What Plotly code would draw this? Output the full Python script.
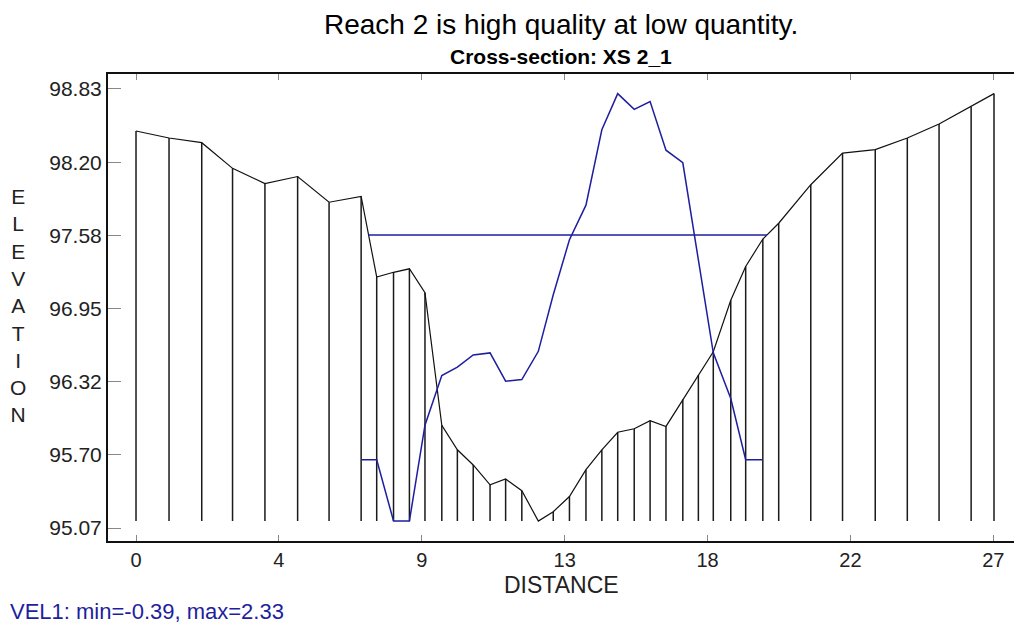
import numpy as np
import plotly.graph_objects as go

# Cross-section XS 2_1: station (distance) and ground elevation
station = [0.00, 1.04, 2.07, 3.04, 4.06, 5.09, 6.08, 7.09, 7.58, 8.11,
           8.61, 9.10, 9.63, 10.12, 10.62, 11.15, 11.64, 12.15, 12.67, 13.14,
           13.65, 14.17, 14.67, 15.17, 15.69, 16.19, 16.69, 17.22, 17.71, 18.18,
           18.73, 19.20, 19.74, 20.24, 21.25, 22.25, 23.28, 24.29, 25.29, 26.30,
           27.02]
elevation = [98.47, 98.41, 98.37, 98.15, 98.02, 98.08, 97.86, 97.91, 97.22, 97.26,
             97.29, 97.085, 95.95, 95.74, 95.61, 95.44, 95.49, 95.39, 95.13, 95.21,
             95.34, 95.57, 95.74, 95.89, 95.92, 95.99, 95.94, 96.17, 96.38, 96.58,
             97.02, 97.31, 97.545, 97.68, 98.01, 98.28, 98.31, 98.41, 98.53, 98.68,
             98.79]

# Velocity (VEL1) at the wetted stations
vel_station = [7.09, 7.58, 8.11, 8.61, 9.10, 9.63, 10.12, 10.62, 11.15, 11.64,
               12.15, 12.67, 13.14, 13.65, 14.17, 14.67, 15.17, 15.69, 16.19, 16.69,
               17.22, 17.71, 18.18, 18.73, 19.20, 19.74]
velocity = [0.00, 0.00, -0.39, -0.39, 0.22, 0.536, 0.59, 0.667, 0.68, 0.50,
            0.51, 0.69, 1.05, 1.40, 1.62, 2.10, 2.33, 2.23, 2.28, 1.97,
            1.89, 1.27, 0.68, 0.39, 0.00, 0.00]

water_surface = 97.58

y_tickvals = [95.07, 95.697, 96.323, 96.95, 97.577, 98.203, 98.83]
x_tickvals = [0, 4.5, 9, 13.5, 18, 22.5, 27]
x_ticktext = ["0", "4", "9", "13", "18", "22", "27"]

x_range = [-0.882, 27.65]
y_range = [94.959, 98.958]

FONT = "Liberation Sans Narrow, Arial Narrow, Liberation Sans, Arial, sans-serif"
BLUE = "#1e1e9e"

st = np.array(station)
el = np.array(elevation)
zmin, zmax = el.min(), el.max()

# vertical station lines from the ground down to the channel bottom
vx, vy = [], []
for s, z in zip(station, elevation):
    vx += [s, s, None]
    vy += [z, zmin, None]

# water edges where the ground profile crosses the water surface
edges = []
for i in range(len(st) - 1):
    a, b = el[i] - water_surface, el[i + 1] - water_surface
    if a * b < 0:
        edges.append(st[i] + a / (a - b) * (st[i + 1] - st[i]))
wx = [edges[0], edges[-1]]

# hidden velocity axis scaled so the velocity span fills the ground span
vmin, vmax = min(velocity), max(velocity)
k = (vmax - vmin) / (zmax - zmin)
y2_range = [vmin + (y_range[0] - zmin) * k, vmin + (y_range[1] - zmin) * k]

fig = go.Figure()
fig.add_trace(go.Scatter(x=vx, y=vy, mode="lines",
                         line=dict(color="#1a1a1a", width=1.5), hoverinfo="skip"))
fig.add_trace(go.Scatter(x=station, y=elevation, mode="lines",
                         line=dict(color="#111111", width=1.2)))
fig.add_trace(go.Scatter(x=wx, y=[water_surface, water_surface], mode="lines",
                         line=dict(color=BLUE, width=1.5)))
fig.add_trace(go.Scatter(x=vel_station, y=velocity, mode="lines", yaxis="y2",
                         line=dict(color=BLUE, width=1.5)))

fig.update_layout(
    width=1014, height=630,
    margin=dict(l=108, r=0, t=74, b=89),
    paper_bgcolor="white", plot_bgcolor="white",
    showlegend=False,
    font=dict(family=FONT, color="#222222"),
    xaxis=dict(range=x_range, tickvals=x_tickvals, ticktext=x_ticktext,
               showgrid=False, zeroline=False, showline=True, linecolor="#111111",
               linewidth=2, mirror="ticks", ticks="inside", ticklen=6,
               tickcolor="#888888", tickfont=dict(size=20)),
    yaxis=dict(range=y_range, tickvals=y_tickvals, tickformat=".2f",
               showgrid=False, zeroline=False, showline=True, linecolor="#111111",
               linewidth=2, ticks="inside", ticklen=13, tickcolor="#888888",
               tickfont=dict(size=21)),
    yaxis2=dict(range=y2_range, overlaying="y", visible=False),
    annotations=[
        dict(text="Reach 2 is high quality at low quantity.", xref="paper", yref="paper",
             x=0.5, y=1.107, xanchor="center", yanchor="middle", showarrow=False,
             font=dict(size=28, color="#000000")),
        dict(text="<b>Cross-section: XS 2_1</b>", xref="paper", yref="paper",
             x=0.5, y=1.038, xanchor="center", yanchor="middle", showarrow=False,
             font=dict(size=21, color="#000000")),
        dict(text="DISTANCE", xref="paper", yref="paper",
             x=0.5, y=-0.094, xanchor="center", yanchor="middle", showarrow=False,
             font=dict(size=23)),
        dict(text="<br>".join("ELEVATION"), xref="paper", yref="paper",
             x=-0.099, y=0.505, xanchor="center", yanchor="middle", showarrow=False,
             font=dict(size=21)),
        dict(text=f"VEL1: min={vmin:.2f}, max={vmax:.2f}", xref="paper", yref="paper",
             x=-0.1104, y=-0.152, xanchor="left", yanchor="middle", showarrow=False,
             font=dict(size=22, color=BLUE)),
    ],
)

fig.write_html("out.html")
